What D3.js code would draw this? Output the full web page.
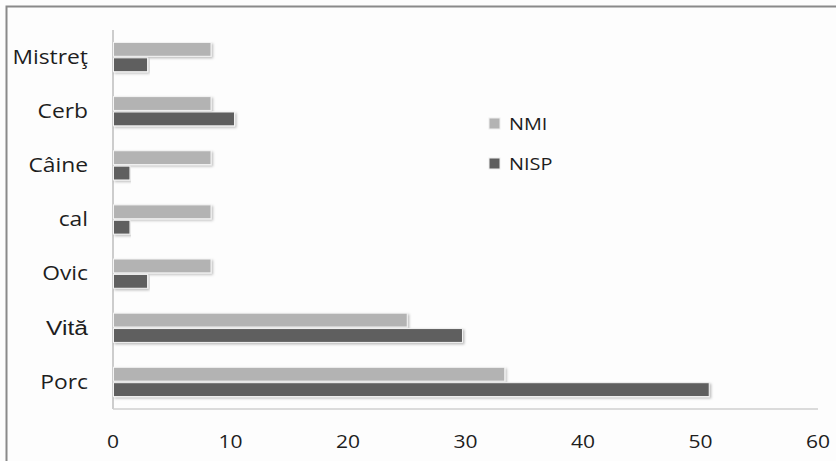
<!DOCTYPE html>
<html><head><meta charset="utf-8">
<script src="https://cdn.jsdelivr.net/npm/d3@7"></script>
<style>body{margin:0;background:#fff}svg{display:block}</style>
</head><body>
<script>
const categories = ["Mistreţ","Cerb","Câine","cal","Ovic","Vită","Porc"];
const nmi = [8.3, 8.3, 8.3, 8.3, 8.3, 25.0, 33.3];
const nisp = [2.9, 10.3, 1.4, 1.4, 2.9, 29.7, 50.7];
const seriesNames = ["NMI","NISP"];
const seriesColors = ["#b3b3b3","#5e5e5e"];
const xTicks = [0,10,20,30,40,50,60];

const W=836,H=461;
const svg=d3.select("body").append("svg").attr("width",W).attr("height",H);
const defs=svg.append("defs");
const f=defs.append("filter").attr("id","sh").attr("x","-5%").attr("y","-30%").attr("width","110%").attr("height","180%");
f.append("feDropShadow").attr("dx",1.5).attr("dy",1.5).attr("stdDeviation",1).attr("flood-color","#000").attr("flood-opacity",0.25);

svg.append("rect").attr("x",0).attr("y",0).attr("width",W).attr("height",H).attr("fill","#fdfdfd");
svg.append("rect").attr("x",6.5).attr("y",6.5).attr("width",W+10).attr("height",H+10).attr("fill","none").attr("stroke","#8a8a8a").attr("stroke-width",2);

const x=d3.scaleLinear().domain([0,60]).range([113,818]);
const y=d3.scaleBand().domain(categories).range([30,409]).paddingInner(0.46).paddingOuter(0.23);
const sub=d3.scaleBand().domain(seriesNames).range([0,y.bandwidth()]).paddingInner(0.1);

const font="'Open Sans', sans-serif";
const sx=1.17;

svg.append("line").attr("x1",113).attr("x2",113).attr("y1",30).attr("y2",409).attr("stroke","#bdbdbd").attr("stroke-width",1.5);
svg.append("line").attr("x1",113).attr("x2",818).attr("y1",409).attr("y2",409).attr("stroke","#cfcfcf").attr("stroke-width",1.5);

const data=[nmi,nisp];
seriesNames.forEach((s,si)=>{
  svg.append("g").selectAll("rect").data(categories).join("rect")
    .attr("x",x(0)+0.5)
    .attr("y",c=>y(c)+sub(s))
    .attr("width",(c,i)=>x(data[si][i])-x(0))
    .attr("height",sub.bandwidth())
    .attr("fill",seriesColors[si])
    .attr("stroke","#f4f4f4").attr("stroke-width",1)
    .attr("filter","url(#sh)");
});

svg.append("g").selectAll("text").data(categories).join("text")
  .attr("transform",c=>`translate(88,${y(c)+y.bandwidth()/2}) scale(${sx},1)`)
  .attr("text-anchor","end").attr("dy","0.35em")
  .attr("font-family",c=>c==="Vită"?"'Liberation Sans', Arial, sans-serif":font)
  .attr("font-size",c=>c==="Vită"?21:19.5).attr("fill","#1e1e1e")
  .text(c=>c);

svg.append("g").selectAll("text").data(xTicks).join("text")
  .attr("transform",d=>`translate(${x(d)},442) scale(${sx},1)`)
  .attr("text-anchor","middle").attr("dy","0.35em")
  .attr("font-family",font).attr("font-size",18).attr("fill","#1e1e1e")
  .text(d=>d);

const leg=svg.append("g");
seriesNames.forEach((s,i)=>{
  const ly=124+i*40;
  leg.append("rect").attr("x",489).attr("y",ly-6).attr("width",11).attr("height",11).attr("fill",seriesColors[i]).attr("stroke","#eee");
  leg.append("text").attr("transform",`translate(509,${ly}) scale(${sx},1)`).attr("dy","0.35em")
    .attr("font-family",font).attr("font-size",17).attr("fill","#1e1e1e").text(s);
});
</script>
</body></html>
